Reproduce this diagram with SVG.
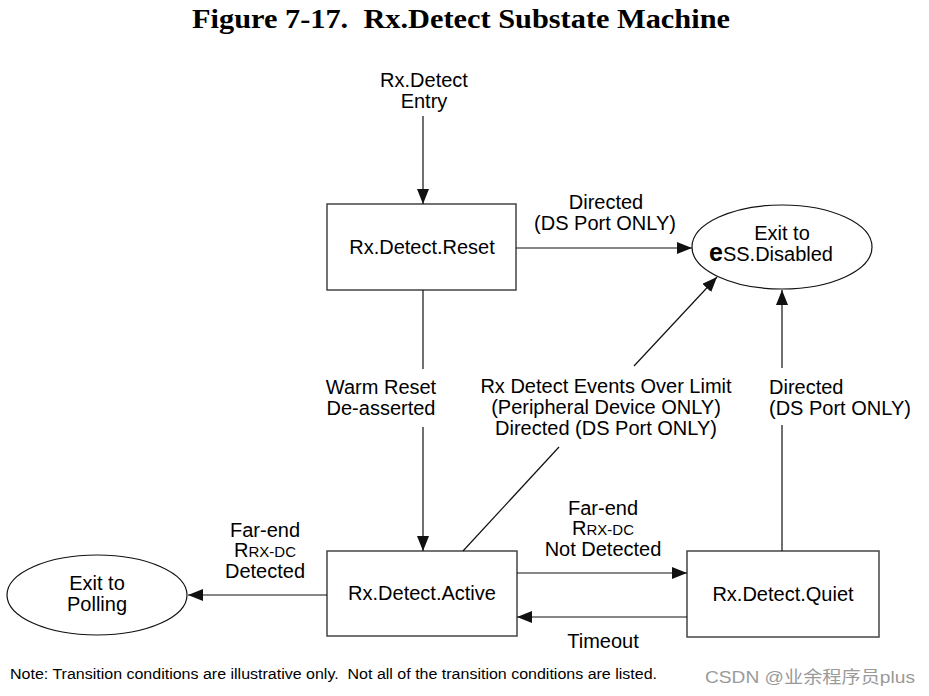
<svg xmlns="http://www.w3.org/2000/svg" width="929" height="696" viewBox="0 0 929 696">
<style>
text{font-family:"Liberation Sans",Arial,Helvetica,sans-serif;font-size:20px;fill:#000;}
.title{font-family:"Liberation Serif","Times New Roman",serif;font-weight:bold;font-size:27px;}
.box{fill:#fff;stroke:#444;stroke-width:1.5;}
.ell{fill:#fff;stroke:#111;stroke-width:1.2;}
.c{text-anchor:middle;}
.line{fill:none;stroke:#111;stroke-width:1.2;}
.note{font-size:15.5px;}
.wm{font-family:"Liberation Sans","Noto Sans CJK SC",sans-serif;font-size:17px;fill:#9a9a9a;}
</style>
<defs>
<marker id="ah" markerUnits="userSpaceOnUse" markerWidth="16" markerHeight="12" refX="15" refY="6" orient="auto">
<path d="M0,0 L15,6 L0,12 z" fill="#111"/>
</marker>
</defs>
<text class="title c" x="461" y="28" textLength="538" lengthAdjust="spacingAndGlyphs" xml:space="preserve">Figure 7-17.  Rx.Detect Substate Machine</text>

<g id="entry">
<text class="c" x="424" y="87">Rx.Detect</text>
<text class="c" x="424" y="108">Entry</text>
</g>
<g id="reset">
<rect class="box" x="327" y="204" width="189" height="86"/>
<text class="c" x="422" y="254">Rx.Detect.Reset</text>
</g>
<g id="disabled">
<ellipse class="ell" cx="782" cy="247" rx="90" ry="42"/>
<text class="c" x="782" y="240">Exit to</text>
<text x="709" y="261"><tspan font-weight="bold" font-size="25">e</tspan>SS.Disabled</text>
</g>
<g id="active">
<rect class="box" x="327" y="551" width="190" height="85"/>
<text class="c" x="422" y="600">Rx.Detect.Active</text>
</g>
<g id="quiet">
<rect class="box" x="687" y="551" width="192" height="86"/>
<text class="c" x="783" y="601">Rx.Detect.Quiet</text>
</g>
<g id="polling">
<ellipse class="ell" cx="97" cy="595" rx="90" ry="40"/>
<text class="c" x="97" y="590">Exit to</text>
<text class="c" x="97" y="611">Polling</text>
</g>

<g id="connectors">
<path class="line" d="M423,116 L423,204" marker-end="url(#ah)"/>
<path class="line" d="M516,248 L692,248" marker-end="url(#ah)"/>
<path class="line" d="M423,290 L423,369"/>
<path class="line" d="M423,427 L423,551" marker-end="url(#ah)"/>
<path class="line" d="M463,551 L559,447"/>
<path class="line" d="M634,366 L717,277" marker-end="url(#ah)"/>
<path class="line" d="M782,551 L782,425"/>
<path class="line" d="M782,368 L782,290" marker-end="url(#ah)"/>
<path class="line" d="M517,573 L687,573" marker-end="url(#ah)"/>
<path class="line" d="M687,617 L517,617" marker-end="url(#ah)"/>
<path class="line" d="M327,595 L188,595" marker-end="url(#ah)"/>

<text class="c" x="606" y="209">Directed</text>
<text class="c" x="605" y="230">(DS Port ONLY)</text>

<text class="c" x="381" y="394">Warm Reset</text>
<text class="c" x="381" y="415">De-asserted</text>

<text class="c" x="606" y="393">Rx Detect Events Over Limit</text>
<text class="c" x="606" y="414">(Peripheral Device ONLY)</text>
<text class="c" x="606" y="435">Directed (DS Port ONLY)</text>

<text x="769" y="394">Directed</text>
<text x="769" y="415">(DS Port ONLY)</text>

<text class="c" x="603" y="515">Far-end</text>
<text class="c" x="603" y="535">R<tspan font-size="15">RX-DC</tspan></text>
<text class="c" x="603" y="556">Not Detected</text>

<text class="c" x="603" y="648">Timeout</text>

<text class="c" x="265" y="537">Far-end</text>
<text class="c" x="265" y="557">R<tspan font-size="15">RX-DC</tspan></text>
<text class="c" x="265" y="578">Detected</text>
</g>

<text class="note" x="10" y="679" textLength="647" lengthAdjust="spacingAndGlyphs" xml:space="preserve">Note: Transition conditions are illustrative only.  Not all of the transition conditions are listed.</text>
<text class="wm" x="705" y="683" textLength="210" lengthAdjust="spacingAndGlyphs">CSDN @业余程序员plus</text>
</svg>
